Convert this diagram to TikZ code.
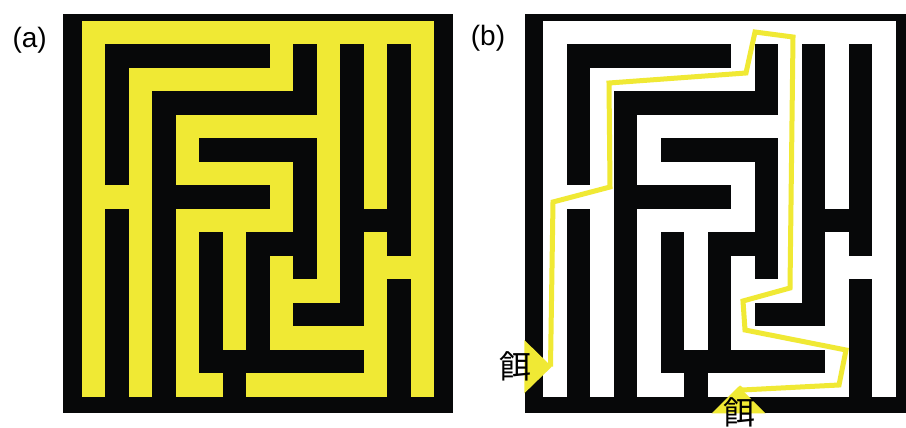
\documentclass[tikz,border=0pt]{standalone}
\usepackage{fontspec}
\setmainfont{Liberation Sans}
\newfontfamily\cjk{Noto Sans CJK JP}

\definecolor{mazeyellow}{RGB}{240,233,52}
\definecolor{mazeblack}{RGB}{7,8,9}

% walls of the maze, in grid cells (col/row of two corners)
\newcommand{\mazewalls}{%
  \foreach \xa/\ya/\xb/\yb in {1/1/8/2, 1/1/2/7, 1/8/2/16, 3/3/4/16, 3/3/10/4, 9/1/10/4,
      4/7/8/8, 5/5/10/6, 9/5/10/11, 7/9/10/10, 7/9/8/14, 5/9/6/15, 5/14/12/15,
      6/14/7/16, 11/1/12/13, 9/12/12/13, 12/8/13/9, 13/1/14/10, 13/11/14/16}
    {\fill[mazeblack] (\xa,\ya) rectangle (\xb,\yb);}%
}

\tikzset{
  panel/.style={font=\fontsize{28}{30}\selectfont},
  bait/.style={font=\cjk\fontsize{32}{34}\selectfont},
  route/.style={draw=mazeyellow, line width=5pt, line join=miter},
}

\begin{document}
\begin{tikzpicture}[x=1pt, y=-1pt, every node/.style={inner sep=0pt}]
    \useasboundingbox (0,0) rectangle (906,428);
    % (a) corridors in yellow
    \fill[mazeblack] (63.3,14) rectangle (453,413);
    \begin{scope}[shift={(81.7,20.7)}, x=23.5pt, y=-23.5pt]
        \fill[mazeyellow] (0,0) rectangle (15,16);
        \mazewalls
    \end{scope}
    \node[panel] (lbla) at (29.7,40.5) {(a)};
    % (b) same maze, with the route
    \fill[mazeblack] (525,14) rectangle (906,413);
    \begin{scope}[shift={(543.3,20.7)}, x=23.5pt, y=-23.5pt]
        \fill[white] (0,0) rectangle (15,16);
        \mazewalls
    \end{scope}
    \node[panel] (lblb) at (488,38) {(b)};
    \fill[mazeyellow] (524.3,340) -- (551.7,366.7) -- (524.3,393.3) -- cycle;
    \fill[mazeyellow] (711.7,413.3) -- (738.5,386.5) -- (765.5,413.3) -- cycle;
    \coordinate (entry) at (550.5,366.7);
    \coordinate (goal) at (738.5,387.5);
    \draw[route] (entry) -- (553,202) -- (610,187) -- (609,83) -- (746,73) -- (755,32)
        -- (793,37) -- (790,288) -- (743,301) -- (745,330) -- (846,350) -- (839,385)
        -- (742,390) -- (goal);
    \node[bait] (baitleft) at (515.7,366.7) {餌};
    \node[bait] (baitbottom) at (739,412) {餌};
\end{tikzpicture}
\end{document}
